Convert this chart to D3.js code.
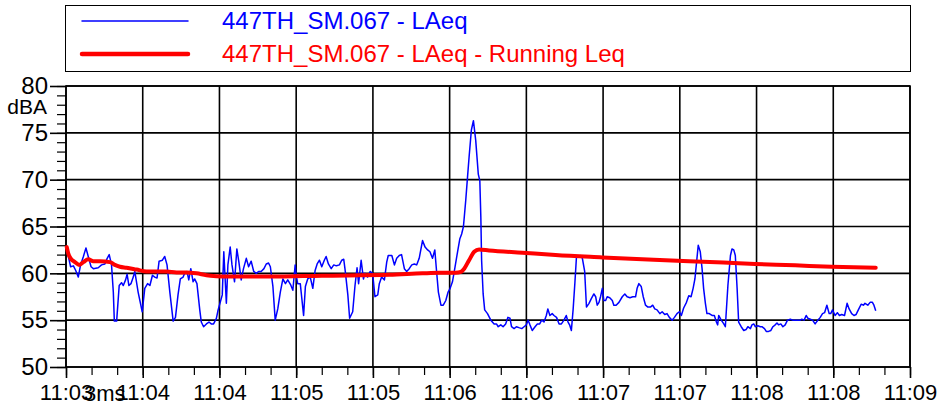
<!DOCTYPE html>
<html>
<head>
<meta charset="utf-8">
<script src="https://cdnjs.cloudflare.com/ajax/libs/d3/7.8.5/d3.min.js"></script>
<style>
  body { margin: 0; background: #fff; }
  svg text { font-family: "Liberation Sans", Arial, sans-serif; }
</style>
</head>
<body>
<script>

// seconds after 11:03:30 and level in dBA
var laeqT = [0.3,1.8,2.9,3.8,4.8,5.7,6.8,7.8,8.7,9.8,10.7,12.6,13.9,15.2,16.1,16.9,17.8,18.5,18.9,19.8,20.8,21.7,22.4,23.3,23.9,24.6,25.4,26.3,26.9,28.2,29.8,30.8,31.9,32.8,33.8,34.7,35.6,36.4,37.7,38.6,39.5,40.6,41.9,42.8,43.8,44.7,45.8,46.4,47.3,48.0,48.8,49.7,50.3,51.2,52.3,52.9,53.8,54.9,55.9,56.8,57.7,58.8,59.4,60.3,61.1,61.7,62.7,
  63.3,64.2,64.9,65.9,66.8,67.6,68.5,69.4,70.5,71.4,72.4,73.4,74.4,75.3,76.3,77.4,78.3,79.2,79.9,80.9,81.8,82.8,83.8,84.8,85.8,86.7,87.8,88.7,89.6,90.0,90.6,91.6,92.9,93.6,94.5,95.5,96.5,97.4,98.2,99.1,100.0,101.0,101.7,102.6,103.7,104.7,105.7,106.9,107.8,108.6,109.2,110.2,110.9,112.1,113.0,113.8,114.4,115.4,116.3,116.9,117.9,118.9,119.9,120.8,121.9,122.5,123.4,124.5,125.4,126.0,
  127.4,128.4,129.3,130.3,131.2,132.3,133.2,134.2,135.2,136.2,137.1,138.1,139.4,140.4,141.4,142.3,143.3,144.2,144.9,145.6,146.6,147.5,148.5,149.4,150.2,151.1,152.0,153.1,154.0,154.7,155.4,
  156.3,157.0,157.6,158.5,159.3,160.2,161.2,161.8,162.2,162.5,163.1,163.7,164.8,166.1,167.4,168.3,169.0,170.0,170.9,171.9,172.8,173.6,174.2,175.2,176.1,177.1,178.2,179.1,180.0,180.7,181.4,182.3,183.4,184.3,185.2,186.0,186.9,187.8,188.4,189.2,190.1,
  190.8,191.8,192.8,193.7,194.7,195.6,196.3,196.9,197.6,198.3,199.0,199.6,200.6,201.2,201.9,202.8,203.5,204.5,205.4,206.4,207.1,207.7,208.4,209.0,209.7,210.3,211.0,211.6,212.6,213.6,214.2,215.1,216.2,217.5,218.5,219.4,220.5,221.6,222.7,223.3,224.0,224.9,225.7,226.6,227.5,228.5,229.4,230.2,231.1,232.2,233.1,234.1,235.0,235.9,237.0,237.9,238.9,239.8,240.6,241.5,242.6,243.5,244.4,245.2,245.9,246.7,247.2,248.0,248.7,249.3,250.0,250.6,251.5,252.6,253.5,254.3,254.8,
  255.2,256.2,257.2,257.8,258.8,259.8,260.4,261.1,261.7,262.4,263.0,264.0,265.0,265.9,266.6,267.6,268.2,268.9,269.5,270.5,271.5,272.1,273.1,273.8,274.7,275.6,276.4,277.3,278.0,278.6,279.5,280.3,281.2,282.1,283.2,284.1,285.1,286.0,287.1,287.7,288.6,289.4,290.1,291.0,291.9,292.9,294.0,294.9,295.8,296.6,297.5,298.4,299.0,299.7,300.7,301.6,302.4,303.3,304.4,305.4,306.2,307.2,308.1,308.9,309.8,310.9,311.8,312.4,313.5,314.4,315.3,315.9,316.6];

var laeqV = [62.6,60.7,60.8,60.3,59.6,60.9,61.8,62.7,61.8,60.7,60.5,60.6,60.9,61.0,61.6,62.0,60.9,58.0,54.9,54.9,58.7,59.0,58.7,59.3,59.9,58.7,58.9,59.6,60.2,58.0,55.9,58.4,58.9,58.7,59.8,59.6,59.5,61.3,61.4,61.8,60.9,58.0,54.9,55.3,57.7,59.4,59.6,60.0,60.2,59.3,60.5,59.1,59.4,58.9,56.1,54.8,54.3,54.6,54.8,54.6,54.6,55.2,56.0,56.9,57.7,62.3,56.8,
  60.9,62.8,60.9,59.1,62.6,61.2,59.3,60.5,61.6,60.7,61.3,60.2,60.0,60.2,60.2,60.5,61.0,61.1,60.7,58.6,55.0,56.2,58.0,59.4,58.9,59.3,58.8,58.2,60.9,59.8,58.9,58.9,55.5,58.6,59.4,59.6,58.4,60.3,61.0,61.4,60.7,61.4,61.8,61.0,60.5,60.9,60.8,60.9,61.4,61.5,60.2,57.7,55.2,55.9,58.7,60.6,58.9,61.4,59.4,60.0,59.6,60.2,60.0,57.5,57.7,58.9,59.6,59.3,61.2,61.9,
  61.9,60.9,61.6,61.9,62.0,60.5,60.2,60.5,60.9,61.0,60.9,61.6,63.5,62.8,62.5,62.3,61.6,62.5,60.2,58.0,56.6,56.6,57.1,58.0,58.4,59.1,60.5,62.3,63.7,64.2,65.0,
  67.8,70.3,72.4,75.3,76.3,74.2,70.6,69.9,66.0,61.4,57.8,56.1,55.7,55.0,54.6,54.6,54.3,54.5,54.3,54.6,55.3,55.2,54.3,54.1,54.3,54.2,54.1,54.3,54.5,55.0,54.5,53.9,54.3,54.6,54.6,55.0,54.8,55.5,56.2,55.5,55.7,
  55.5,55.3,54.6,54.6,55.0,55.5,54.8,54.5,53.9,56.2,59.1,61.8,61.8,61.9,61.6,60.2,56.4,56.8,57.3,57.8,57.5,56.6,56.9,57.5,58.4,57.1,57.1,57.5,57.4,57.1,56.6,56.6,56.9,57.5,57.8,57.5,57.4,57.5,57.5,58.4,58.9,58.6,57.5,56.6,56.4,56.4,56.6,56.2,56.1,55.7,55.9,55.6,55.7,55.3,55.0,55.3,55.7,55.9,55.5,56.3,56.9,57.6,57.5,58.4,59.4,61.6,63.0,62.3,60.5,58.4,56.8,55.7,55.7,55.5,55.5,54.8,54.5,
  55.5,55.0,54.6,54.3,58.7,61.9,62.6,62.5,61.9,58.4,54.8,54.3,53.9,54.0,54.3,54.1,54.5,54.6,54.3,54.4,54.3,54.3,54.1,53.8,53.8,53.9,54.3,54.5,54.7,54.5,54.6,54.3,54.5,55.0,55.1,55.0,55.0,55.0,55.0,55.1,55.0,55.5,55.2,55.1,55.0,54.6,55.0,55.3,55.7,55.8,56.6,55.7,55.7,56.1,55.5,55.8,55.5,55.6,55.5,56.8,56.2,55.7,55.5,55.6,56.1,56.7,56.6,56.8,56.6,56.9,56.9,56.6,56.0];

var runT = [0.3,0.9,1.8,3.5,5.2,6.8,8.7,10.7,13.3,17.2,19.1,21.1,23.7,27.6,31.5,35.4,39.3,43.2,47.1,51.0,54.9,58.8,62.7,80,100,126.4,139.4,146,152.4,154.4,155.7,157.6,159.6,161.5,165.4,178.4,191.4,209.7,229.8,257.1,269.5,285.1,299.4,316.6];
var runV = [62.8,62.1,61.6,61.2,60.9,61.2,61.5,61.3,61.3,61.2,60.9,60.7,60.6,60.4,60.2,60.2,60.2,60.1,60.1,60.0,59.8,59.7,59.65,59.65,59.75,59.85,60.0,60.05,60.05,60.15,60.5,61.4,62.3,62.55,62.45,62.2,61.95,61.7,61.45,61.15,61.0,60.85,60.7,60.6];

var yTicks = [50, 55, 60, 65, 70, 75, 80];
var seriesNames = ["447TH_SM.067 - LAeq", "447TH_SM.067 - LAeq - Running Leq"];

var t0 = new Date(2000, 0, 1, 11, 3, 30);
var t1 = new Date(2000, 0, 1, 11, 9, 0);
function toDate(s) { return new Date(t0.getTime() + s * 1000); }

var margin = {top: 86, right: 30, bottom: 43, left: 66};
var width = 940 - margin.left - margin.right,
    height = 410 - margin.top - margin.bottom;

var svg = d3.select("body").append("svg")
    .attr("width", 940)
    .attr("height", 410);

var g = svg.append("g")
    .attr("transform", "translate(" + margin.left + "," + margin.top + ")");

var x = d3.scaleTime().domain([t0, t1]).range([0, width]);
var y = d3.scaleLinear().domain([50, 80]).range([height, 0]);

var majorX = d3.timeSecond.every(30).range(t0, new Date(t1.getTime() + 1));
var minorX = d3.timeSecond.every(10).range(t0, new Date(t1.getTime() + 1));

// grid
g.selectAll(".vgrid").data(majorX).enter().append("line")
    .attr("x1", function(d) { return x(d); })
    .attr("x2", function(d) { return x(d); })
    .attr("y1", 0).attr("y2", height)
    .attr("stroke", "#000").attr("stroke-width", 1.6);

g.selectAll(".hgrid").data(yTicks).enter().append("line")
    .attr("x1", 0).attr("x2", width)
    .attr("y1", function(d) { return y(d); })
    .attr("y2", function(d) { return y(d); })
    .attr("stroke", "#000").attr("stroke-width", 1.6);

// axes
var fmt = d3.timeFormat("%H:%M");

g.append("g")
    .attr("transform", "translate(0," + height + ")")
    .call(d3.axisBottom(x).tickValues(minorX).tickSize(8).tickFormat(""))
    .call(function(a) { a.select(".domain").remove(); a.selectAll("line").attr("stroke-width", 1.2); });

g.append("g")
    .attr("transform", "translate(0," + height + ")")
    .call(d3.axisBottom(x).tickValues(majorX).tickSize(11).tickPadding(6).tickFormat(fmt))
    .call(function(a) {
      a.select(".domain").remove();
      a.selectAll("line").attr("stroke-width", 1.6);
      a.selectAll("text").attr("font-size", 22).attr("fill", "#000")
        .attr("font-family", "'Liberation Sans', Arial, sans-serif");
    });

g.append("g")
    .call(d3.axisLeft(y).tickValues(d3.range(50, 81, 1)).tickSize(9).tickFormat(""))
    .call(function(a) { a.select(".domain").remove(); a.selectAll("line").attr("stroke-width", 1.2); });

g.append("g")
    .call(d3.axisLeft(y).tickValues(yTicks).tickSize(16).tickPadding(2).tickFormat(d3.format("d")))
    .call(function(a) {
      a.select(".domain").remove();
      a.selectAll("line").attr("stroke-width", 1.6);
      a.selectAll("text").attr("font-size", 24).attr("fill", "#000")
        .attr("font-family", "'Liberation Sans', Arial, sans-serif");
    });

g.append("text")
    .attr("x", -19).attr("y", y(77.8))
    .attr("text-anchor", "end")
    .attr("dy", "0.35em")
    .attr("font-size", 21)
    .text("dBA");

g.append("text")
    .attr("x", 18).attr("y", height + 34)
    .attr("font-size", 22)
    .text("3ms");

// plot frame
g.append("rect")
    .attr("width", width).attr("height", height)
    .attr("fill", "none").attr("stroke", "#000").attr("stroke-width", 1.6);

// series
var laeq = laeqT.map(function(t, i) { return [toDate(t), laeqV[i]]; });
var run = runT.map(function(t, i) { return [toDate(t), runV[i]]; });

var line = d3.line()
    .x(function(d) { return x(d[0]); })
    .y(function(d) { return y(d[1]); });

g.append("path")
    .datum(laeq)
    .attr("d", line)
    .attr("fill", "none")
    .attr("stroke", "#0000ff")
    .attr("stroke-width", 1.5)
    .attr("stroke-linejoin", "round");

g.append("path")
    .datum(run)
    .attr("d", line.curve(d3.curveMonotoneX))
    .attr("fill", "none")
    .attr("stroke", "#ff0000")
    .attr("stroke-width", 4)
    .attr("stroke-linejoin", "round")
    .attr("stroke-linecap", "round");

// legend
var legend = svg.append("g");
legend.append("rect")
    .attr("x", 65.5).attr("y", 5.5)
    .attr("width", 845).attr("height", 66)
    .attr("fill", "#fff").attr("stroke", "#000").attr("stroke-width", 1);

var lcol = ["#0000ff", "#ff0000"], lw = [1.5, 4.5];
seriesNames.forEach(function(name, i) {
  var ly = 21 + i * 33;
  legend.append("line")
      .attr("x1", 82).attr("x2", 188)
      .attr("y1", ly).attr("y2", ly)
      .attr("stroke", lcol[i]).attr("stroke-width", lw[i])
      .attr("stroke-linecap", "round");
  legend.append("text")
      .attr("x", 222).attr("y", ly + 8)
      .attr("font-size", 24)
      .attr("fill", lcol[i])
      .text(name);
});

</script>
</body>
</html>
